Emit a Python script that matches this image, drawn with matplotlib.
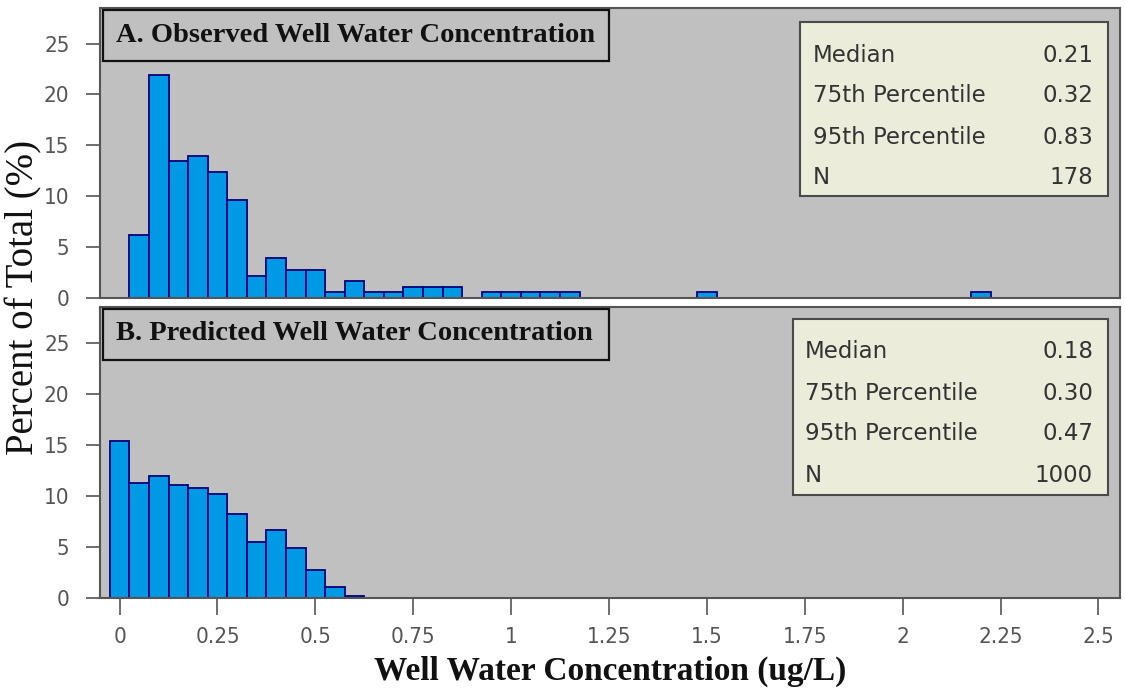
import matplotlib
matplotlib.use("Agg")
import matplotlib.pyplot as plt

# histogram data (percent of total per 0.05 ug/L bin)
obs_bins = [0.05, 0.10, 0.15, 0.20, 0.25, 0.30, 0.35, 0.40, 0.45, 0.50, 0.55, 0.60,
            0.65, 0.70, 0.75, 0.80, 0.85, 0.95, 1.00, 1.05, 1.10, 1.15, 1.50, 2.20]
obs_pct = [6.2, 21.9, 13.5, 14.0, 12.4, 9.6, 2.2, 3.9, 2.8, 2.8, 0.6, 1.7,
           0.6, 0.6, 1.1, 1.1, 1.1, 0.6, 0.6, 0.6, 0.6, 0.6, 0.6, 0.6]

pred_bins = [0.00, 0.05, 0.10, 0.15, 0.20, 0.25, 0.30, 0.35, 0.40, 0.45, 0.50, 0.55, 0.60]
pred_pct = [15.4, 11.3, 11.9, 11.1, 10.8, 10.2, 8.2, 5.5, 6.7, 4.9, 2.7, 1.1, 0.2]

stat_labels = ["Median", "75th Percentile", "95th Percentile", "N"]
obs_stats = ["0.21", "0.32", "0.83", "178"]
pred_stats = ["0.18", "0.30", "0.47", "1000"]

panel_titles = ["A. Observed Well Water Concentration",
                "B. Predicted Well Water Concentration"]

x_ticks = [0, 0.25, 0.5, 0.75, 1, 1.25, 1.5, 1.75, 2, 2.25, 2.5]
x_ticklabels = ["0", "0.25", "0.5", "0.75", "1", "1.25", "1.5", "1.75", "2", "2.25", "2.5"]
y_ticks = [0, 5, 10, 15, 20, 25]

BIN_W = 0.05
BAR_FACE = "#0099e6"
BAR_EDGE = "#00007a"
PANEL_BG = "#c0c0c0"
BOX_BG = "#ebecda"
TICK_COL = "#555555"
SERIF = ["Liberation Serif", "DejaVu Serif"]
TICK_FONT = dict(family=["Liberation Sans Narrow", "DejaVu Sans"], stretch="condensed",
                 size=16, color=TICK_COL)

W, H = 1125, 698
fig = plt.figure(figsize=(W / 100, H / 100), dpi=100)


def px_axes(x0, y0, x1, y1):
    return fig.add_axes([x0 / W, 1 - y1 / H, (x1 - x0) / W, (y1 - y0) / H])


ax_top = px_axes(100, 8, 1120, 298)
ax_bot = px_axes(100, 307, 1120, 598)

panels = [
    (ax_top, obs_bins, obs_pct, obs_stats, (800, 22, 1108, 196), 813),
    (ax_bot, pred_bins, pred_pct, pred_stats, (793, 319, 1108, 495), 805),
]

for i, (ax, bins, pct, stats, box, lab_x) in enumerate(panels):
    ax.set_facecolor(PANEL_BG)
    ax.bar(bins, pct, width=BIN_W, color=BAR_FACE, edgecolor=BAR_EDGE,
           linewidth=1.3, zorder=2)
    ax.set_xlim(-0.05, 2.555)
    ax.set_ylim(0, 28.5)
    for s in ax.spines.values():
        s.set_color("#555555")
        s.set_linewidth(1.5)

    ax.set_yticks(y_ticks)
    ax.set_yticklabels([str(v) for v in y_ticks], fontdict=TICK_FONT)
    ax.tick_params(axis="y", direction="out", length=10, width=1.2,
                   color=TICK_COL, pad=12)
    if i == 0:
        ax.set_xticks([])
    else:
        ax.set_xticks(x_ticks)
        ax.set_xticklabels(x_ticklabels, fontdict=TICK_FONT)
        ax.tick_params(axis="x", direction="out", length=12, width=1.2,
                       color=TICK_COL, pad=9)

    # panel title in a boxed label, upper left
    ty0 = 10 if i == 0 else 309
    fig.patches.append(plt.Rectangle((103 / W, 1 - (ty0 + 51) / H), 506 / W, 51 / H,
                                     transform=fig.transFigure, facecolor=PANEL_BG,
                                     edgecolor="#111111", linewidth=1.6, zorder=5))
    fig.text(116 / W, 1 - (ty0 + 25) / H, panel_titles[i], family=SERIF,
             weight="bold", size=20.5, color="#111111", va="center", ha="left",
             zorder=6)

    # summary statistics box, upper right
    bx0, by0, bx1, by1 = box
    fig.patches.append(plt.Rectangle((bx0 / W, 1 - by1 / H), (bx1 - bx0) / W,
                                     (by1 - by0) / H, transform=fig.transFigure,
                                     facecolor=BOX_BG, edgecolor="#4a4a4a",
                                     linewidth=1.5, zorder=5))
    for r, (lab, val) in enumerate(zip(stat_labels, stats)):
        ry = by0 + 33 + r * 41
        fig.text(lab_x / W, 1 - ry / H, lab, family="DejaVu Sans", size=16.5,
                 color="#333333", va="center", ha="left", zorder=6)
        fig.text(1093 / W, 1 - ry / H, val, family="DejaVu Sans", size=16.5,
                 color="#333333", va="center", ha="right", zorder=6)

fig.text(24 / W, 1 - 297 / H, "Percent of Total (%)", family=SERIF, size=28,
         rotation=90, va="center", ha="center", color="#111111")
fig.text(610 / W, 1 - 671 / H, "Well Water Concentration (ug/L)", family=SERIF,
         weight="bold", size=24, va="center", ha="center", color="#111111")

fig.savefig("out.png", dpi=100)
